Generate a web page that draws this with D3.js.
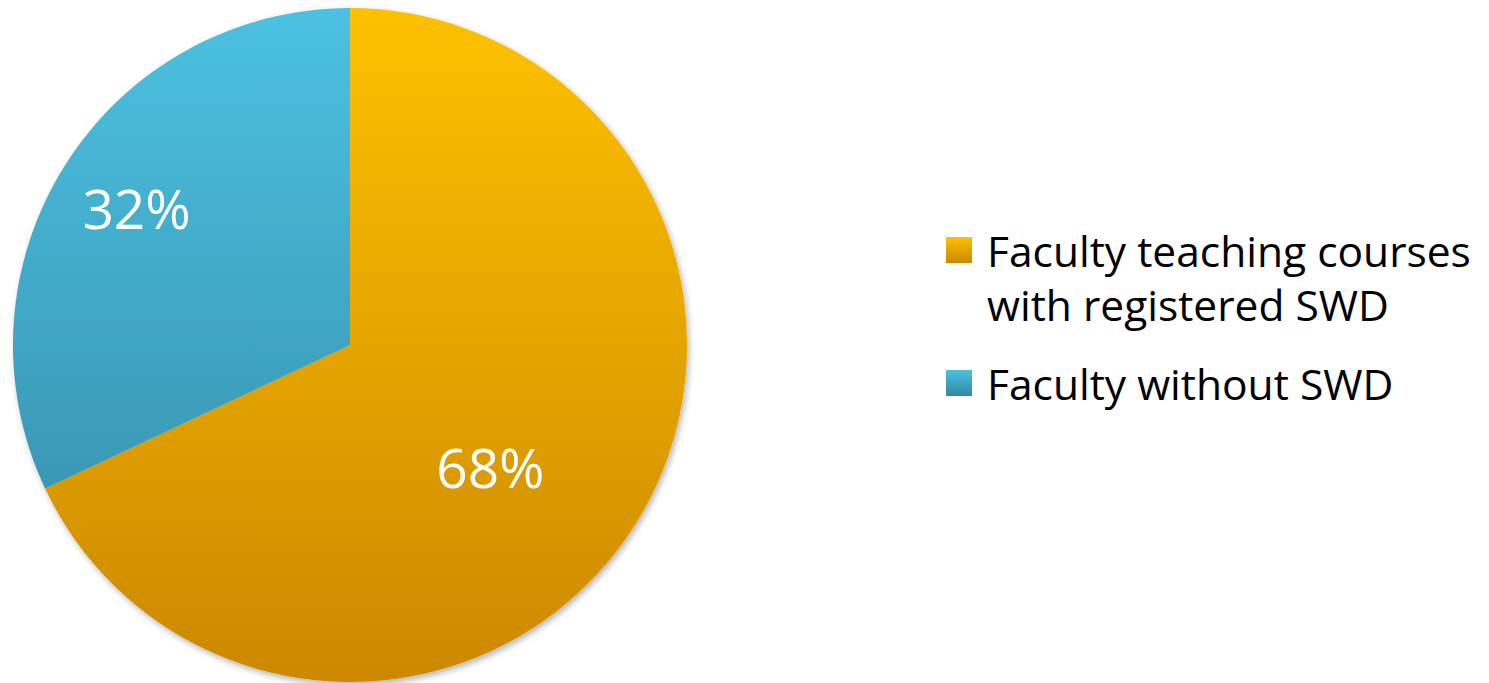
<!DOCTYPE html>
<html>
<head>
<meta charset="utf-8">
<script src="https://cdn.jsdelivr.net/npm/d3@7"></script>
<style>
  body { margin: 0; background: #ffffff; }
  text { font-family: "Open Sans", Lato, sans-serif; }
</style>
</head>
<body>
<script>
// slice data, clockwise from 12 o'clock
var categories = ['Faculty teaching courses with registered SWD', 'Faculty without SWD']
var legendLines = [['Faculty teaching courses', 'with registered SWD'], ['Faculty without SWD']]
var values = [68, 32]
var labels = ['68%', '32%']

var width = 1489,
    height = 683,
    radius = 337,
    cx = 350,
    cy = 345;

var topColors = ['#fdc100', '#4cc1e1']
var bottomColors = ['#cc8800', '#3188a3']

var svg = d3.select('body').append('svg')
  .attr('width', width)
  .attr('height', height)

var defs = svg.append('defs')

// soft shadow under the pie
var shadow = defs.append('filter').attr('id', 'shadow')
  .attr('x', '-10%').attr('y', '-10%').attr('width', '120%').attr('height', '120%')
shadow.append('feDropShadow')
  .attr('dx', 2).attr('dy', 3).attr('stdDeviation', 3)
  .attr('flood-color', '#000').attr('flood-opacity', 0.3)

categories.forEach(function(c, i) {
  // gradient in the pie group's own coords (origin at centre)
  var g = defs.append('linearGradient')
    .attr('id', 'pieGrad' + i)
    .attr('gradientUnits', 'userSpaceOnUse')
    .attr('x1', 0).attr('x2', 0)
    .attr('y1', -radius).attr('y2', radius)
  g.append('stop').attr('offset', '0%').attr('stop-color', topColors[i])
  g.append('stop').attr('offset', '100%').attr('stop-color', bottomColors[i])

  var lg = defs.append('linearGradient')
    .attr('id', 'legGrad' + i)
    .attr('x1', 0).attr('x2', 0).attr('y1', 0).attr('y2', 1)
  lg.append('stop').attr('offset', '0%').attr('stop-color', topColors[i])
  lg.append('stop').attr('offset', '100%').attr('stop-color', bottomColors[i])
})

var pie = d3.pie().sort(null).value(function(d) { return d })
var arc = d3.arc().innerRadius(0).outerRadius(radius)

var arcs = pie(values)

var pieG = svg.append('g')
  .attr('transform', 'translate(' + cx + ' ' + cy + ')')

pieG.append('g')
  .attr('filter', 'url(#shadow)')
  .selectAll('path')
  .data(arcs)
  .enter().append('path')
  .attr('d', arc)
  .attr('fill', function(d, i) { return 'url(#pieGrad' + i + ')' })

var labelArc = d3.arc().innerRadius(radius * 0.75).outerRadius(radius * 0.75)
var labelShift = [[-73, -12], [0, 0]]

pieG.selectAll('text.pct')
  .data(arcs)
  .enter().append('text')
  .attr('class', 'pct')
  .attr('x', function(d, i) { return labelArc.centroid(d)[0] + labelShift[i][0] })
  .attr('y', function(d, i) { return labelArc.centroid(d)[1] + labelShift[i][1] })
  .attr('text-anchor', 'middle')
  .attr('dy', '0.36em')
  .attr('fill', '#ffffff')
  .style('font-size', '55px')
  .text(function(d, i) { return labels[i] })

// legend
var legendY = [250, 383]
var legend = svg.selectAll('g.legend')
  .data(categories)
  .enter().append('g')
  .attr('class', 'legend')
  .attr('transform', function(d, i) { return 'translate(946 ' + legendY[i] + ')' })

legend.append('rect')
  .attr('x', 0)
  .attr('y', -13)
  .attr('width', 26)
  .attr('height', 26)
  .attr('fill', function(d, i) { return 'url(#legGrad' + i + ')' })

legend.append('text')
  .attr('x', 41)
  .attr('y', 17)
  .attr('fill', '#000000')
  .style('font-size', '42.5px')
  .selectAll('tspan')
  .data(function(d, i) { return legendLines[i] })
  .enter().append('tspan')
  .attr('x', 41)
  .attr('dy', function(d, j) { return j === 0 ? 0 : 54 })
  .text(function(d) { return d })
</script>
</body>
</html>
